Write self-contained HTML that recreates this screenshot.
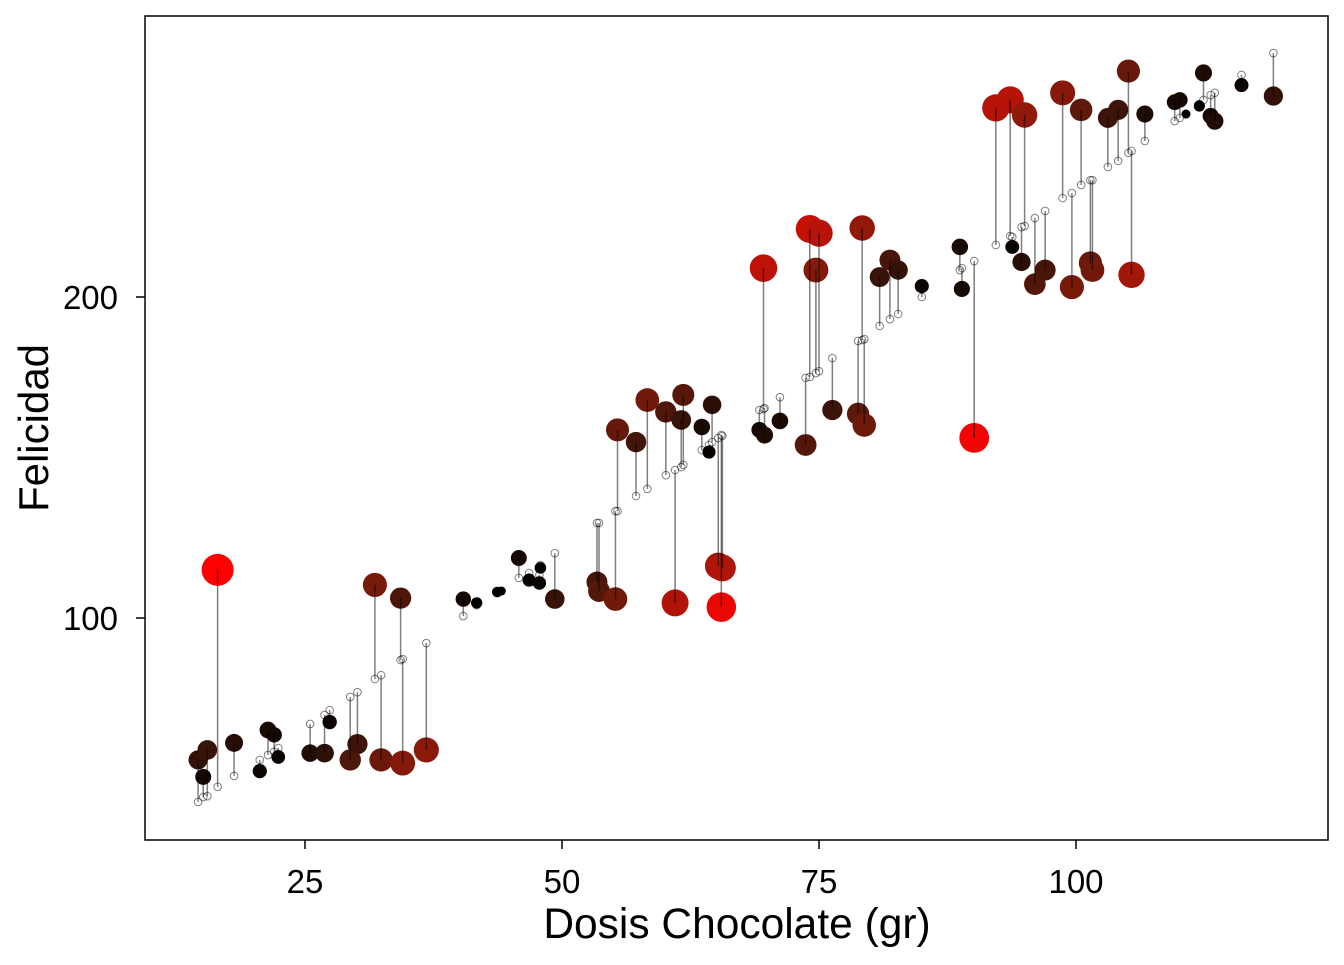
<!DOCTYPE html>
<html><head><meta charset="utf-8"><style>
html,body{margin:0;padding:0;background:#fff;}
svg text{font-family:"Liberation Sans",Arial,sans-serif;}
</style></head><body>
<svg id="chart" width="1344" height="960">
<rect x="145" y="16" width="1183" height="824" fill="#fff" stroke="#000" stroke-width="1.5"/>
<g id="marks"></g>
<g id="axes"></g>
<text x="737" y="938" text-anchor="middle" font-size="42.5">Dosis Chocolate (gr)</text>
<text transform="translate(48,428) rotate(-90)" text-anchor="middle" font-size="42">Felicidad</text>
</svg>
<script>
const dose=[14.6,15.1,15.5,16.5,18.1,20.6,21.4,22.0,22.4,25.5,26.9,27.4,29.4,30.1,31.8,32.4,34.3,34.5,36.8,40.4,41.7,43.7,44.1,45.8,46.8,47.9,47.8,49.3,53.4,53.6,55.2,55.4,57.2,58.3,60.1,61.0,61.6,61.8,63.6,64.3,64.6,65.2,65.6,65.5,69.2,69.6,69.7,71.2,73.7,74.1,74.7,75.0,76.3,78.8,79.2,79.4,80.9,81.9,82.7,85.0,88.7,88.9,90.1,92.2,93.8,93.6,94.7,95.0,96.0,97.0,98.7,99.6,100.5,101.4,101.6,103.1,104.1,105.1,105.4,106.7,109.6,110.1,110.7,112.0,112.4,113.1,113.5,116.1,119.2];
const happiness=[55.8,50.5,58.9,115.0,61.1,52.3,65.1,63.6,56.7,57.9,57.9,67.6,55.8,60.7,110.3,55.8,106.2,54.8,58.9,105.9,104.7,108.1,108.4,118.7,111.8,115.6,110.9,105.9,111.2,108.4,105.9,158.6,154.8,167.9,164.2,104.7,161.7,169.5,159.5,151.7,166.4,116.2,115.6,103.4,158.6,209.0,157.0,161.4,153.9,221.2,208.4,219.9,164.8,163.6,221.5,160.1,206.2,211.5,208.4,203.4,215.6,202.5,156.1,258.9,215.6,261.4,210.9,256.7,204.0,208.4,263.6,203.1,258.3,210.6,208.4,255.8,258.3,270.4,206.9,257.0,260.7,261.4,257.0,259.5,269.8,256.4,254.8,266.0,262.6];
const predicted=[42.7,44.2,44.5,47.4,50.8,55.8,57.3,58.3,59.5,67.0,69.8,71.3,75.4,76.9,81.0,82.2,86.9,87.2,92.2,100.6,104.0,107.8,108.4,112.5,114.0,116.5,113.4,120.2,129.6,129.6,133.3,133.3,138.0,140.2,144.5,146.1,147.0,147.7,152.3,153.9,154.8,156.1,156.7,157.0,164.8,165.1,165.4,168.8,174.8,175.1,176.3,176.9,181.0,186.3,186.6,186.9,191.0,193.1,194.7,200.0,208.4,209.0,211.2,216.2,218.7,219.0,221.8,222.1,224.6,226.8,230.8,232.4,234.9,236.4,236.4,240.5,242.4,244.9,245.5,248.6,254.8,255.8,257.0,260.1,261.4,262.9,263.6,269.2,276.0];
const xTicks=[25,50,75,100];
const yTicks=[100,200];

const NS="http://www.w3.org/2000/svg";
const xs=v=>305+(v-25)*10.28;
const ys=v=>618-(v-100)*3.21;
const marks=document.getElementById('marks');
const axes=document.getElementById('axes');
function mk(tag,attrs,parent){const e=document.createElementNS(NS,tag);for(const k in attrs)e.setAttribute(k,attrs[k]);parent.appendChild(e);return e;}
const res=dose.map((d,i)=>Math.abs(happiness[i]-predicted[i]));
const maxRes=Math.max(...res);
const pts=mk('g',{},marks);


dose.forEach((d,i)=>{
  const t=res[i]/maxRes;
  const c01=Math.min(1,res[i]/58);
  const r=Math.round(255*Math.pow(c01,1.1)), g=Math.round(26*Math.sin(Math.PI*c01));
  const c=mk('circle',{cx:xs(d),cy:ys(happiness[i]),r:4.5+11.5*Math.sqrt(t),fill:`rgb(${r},${g},${Math.round(g*0.4)})`},pts);
  
  
});
const segs=mk('g',{},marks);


dose.forEach((d,i)=>{
  const l=mk('line',{x1:xs(d),x2:xs(d),y1:ys(happiness[i]),y2:ys(predicted[i]),stroke:'rgba(0,0,0,0.5)','stroke-width':1.5},segs);
  
  
});
const preds=mk('g',{},marks);


dose.forEach((d,i)=>{
  const c=mk('circle',{cx:xs(d),cy:ys(predicted[i]),r:3.8,fill:'none',stroke:'rgba(0,0,0,0.5)','stroke-width':1},preds);
  
  
});
xTicks.forEach(v=>{
  const l=mk('line',{x1:xs(v),x2:xs(v),y1:840,y2:849,stroke:'#000','stroke-width':1.5},axes);
  
  
  const t=mk('text',{x:xs(v),y:893,'text-anchor':'middle','font-size':33},axes);
  t.textContent=v;
  
  
});
yTicks.forEach(v=>{
  const l=mk('line',{x1:136,x2:145,y1:ys(v),y2:ys(v),stroke:'#000','stroke-width':1.5},axes);
  
  
  const t=mk('text',{x:118,y:ys(v)+12,'text-anchor':'end','font-size':33},axes);
  t.textContent=v;
  
  
});
</script>
</body></html>
